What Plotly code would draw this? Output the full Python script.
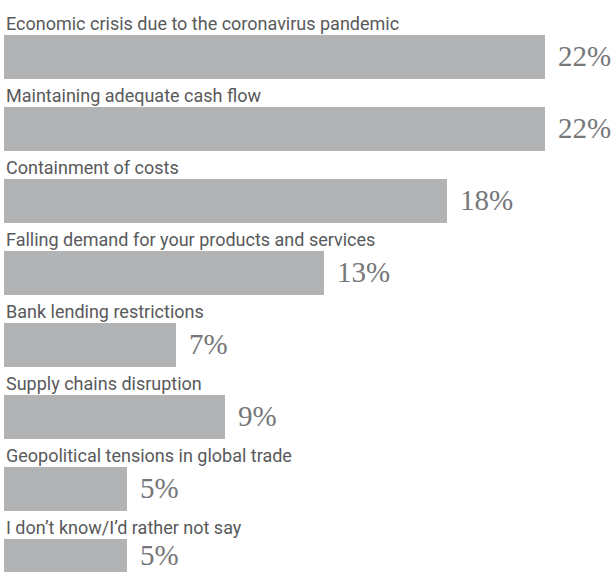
import plotly.graph_objects as go

categories = [
    "Economic crisis due to the coronavirus pandemic",
    "Maintaining adequate cash flow",
    "Containment of costs",
    "Falling demand for your products and services",
    "Bank lending restrictions",
    "Supply chains disruption",
    "Geopolitical tensions in global trade",
    "I don\u2019t know/I\u2019d rather not say",
]
values = [22, 22, 18, 13, 7, 9, 5, 5]
value_labels = ["22%", "22%", "18%", "13%", "7%", "9%", "5%", "5%"]

W, H = 616, 572
px_per_unit = 24.6
row_px = 72
first_top = 35
bar_px = 44

# layout: row tops/centres in pixel units of the y axis
row_tops = [first_top + row_px * i for i in range(len(categories))]
row_centres = [t + bar_px / 2 for t in row_tops]
# value labels centred on the visible part of each bar
label_centres = [(t + min(t + bar_px, H)) / 2 for t in row_tops]

fig = go.Figure(go.Bar(
    x=values,
    y=row_centres,
    orientation="h",
    width=bar_px,
    marker=dict(color="#b1b3b4", line=dict(width=0)),
    hoverinfo="skip",
))

annotations = []
for yc, ly, cat, v, lab in zip(row_centres, label_centres, categories, values, value_labels):
    annotations.append(dict(
        x=0, y=yc, xref="x", yref="y", text=cat, showarrow=False,
        xanchor="left", yanchor="bottom", yshift=bar_px / 2 - 1,
        font=dict(family="Roboto", size=18, color="#58595b"),
    ))
    annotations.append(dict(
        x=v, y=ly, xref="x", yref="y", text=lab, showarrow=False,
        xanchor="left", yanchor="middle", xshift=11, yshift=1,
        font=dict(family="Liberation Serif", size=29, color="#76777a"),
    ))

plot_w = W - 4

fig.update_layout(
    width=W, height=H,
    margin=dict(l=4, r=0, t=0, b=0),
    paper_bgcolor="white", plot_bgcolor="white",
    showlegend=False,
    xaxis=dict(range=[0, plot_w / px_per_unit], visible=False, fixedrange=True),
    yaxis=dict(range=[H, 0], visible=False, fixedrange=True),
    annotations=annotations,
    bargap=0,
)

fig.write_html("out.html", config={"displayModeBar": False})
